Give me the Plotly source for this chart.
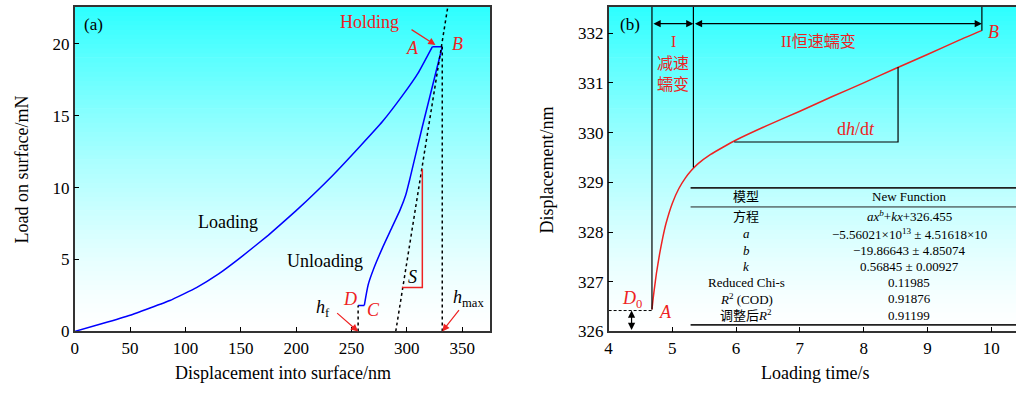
import plotly.graph_objects as go

W, H = 1016, 396
# ---------------- data: panel (a) ----------------
load_disp = [0, 25, 50, 86, 110, 130, 150, 175, 200, 233, 258, 278, 296, 310, 323]
load_force = [0, 0.55, 1.13, 2.15, 3.05, 4.0, 5.15, 6.7, 8.4, 10.85, 12.9, 14.6, 16.4, 17.95, 19.8]
hold_disp = [323, 332]
hold_force = [19.8, 19.8]
unload_disp = [332, 314.0, 303.5, 299.0, 294.0, 287.1, 277.7, 270.3, 265.1, 261.6]
unload_force = [19.8, 14.24, 10.85, 9.49, 8.47, 7.32, 5.76, 4.41, 3.25, 1.81]
cd_disp = [261.6, 256]
cd_force = [1.81, 1.81]
h_max = 332
h_f = 256
tangent_disp = [290, 337]
tangent_force = [0, 22.58]
s_disp = [295.5, 314, 314]
s_force = [3.05, 3.05, 11.3]

# ---------------- data: panel (b) ----------------
time_s = [4.68, 4.70, 4.72, 4.75, 4.80, 4.85, 4.90, 5.00, 5.10, 5.20, 5.30, 5.40,
          5.60, 5.80, 6.00, 6.50, 7.00, 7.50, 8.00, 8.50, 9.00, 9.50, 9.85]
disp_nm = [326.44, 326.68, 326.88, 327.17, 327.56, 327.89, 328.17, 328.58, 328.87, 329.08,
           329.24, 329.37, 329.56, 329.71, 329.85, 330.15, 330.43, 330.72, 331.00, 331.29,
           331.57, 331.86, 332.05]
t_A, t_I, t_B = 4.68, 5.33, 9.855
h_I = 329.3
D0 = 326.42
dhdt_t = [5.97, 8.54, 8.54]
dhdt_h = [329.81, 329.81, 331.32]

table_left = ["模型", "方程", "<i>a</i>", "<i>b</i>", "<i>k</i>", "Reduced Chi-s",
              "<i>R</i><sup>2</sup> (COD)", "调整后<i>R</i><sup>2</sup>"]
table_right = ["New Function", "<i>ax</i><sup><i>b</i></sup>+<i>kx</i>+326.455",
               "−5.56021×10<sup>13</sup> ± 4.51618×10", "−19.86643 ± 4.85074",
               "0.56845 ± 0.00927", "0.11985", "0.91876", "0.91199"]

FONT = "Liberation Serif, Noto Sans CJK SC, serif"
RED = "#ee2222"
BLUE = "#0000ff"


def px(x):
    return x / W


def py(y):
    return 1 - y / H


fig = go.Figure()


def line_trace(x, y, color, width=1.5, dash=None, spline=False, ax="x", ay="y", smoothing=0.5):
    ln = dict(color=color, width=width)
    if dash:
        ln["dash"] = dash
    if spline:
        ln["shape"] = "spline"
        ln["smoothing"] = smoothing
    fig.add_trace(go.Scatter(x=x, y=y, mode="lines", line=ln, xaxis=ax, yaxis=ay,
                             showlegend=False, hoverinfo="skip"))


line_trace(load_disp, load_force, BLUE, spline=True, smoothing=0.3)
line_trace(hold_disp, hold_force, BLUE)
line_trace(unload_disp, unload_force, BLUE, spline=True, smoothing=0.6)
line_trace(cd_disp, cd_force, BLUE)
line_trace(tangent_disp, tangent_force, "black", dash="dot")
line_trace([h_max, h_max], [0, hold_force[-1]], "black", dash="dot")
line_trace([h_f, h_f], [0, cd_force[-1]], "black", dash="dot")
line_trace(s_disp, s_force, RED)

line_trace(time_s, disp_nm, RED, spline=True, ax="x2", ay="y2", smoothing=0.5)
line_trace(dhdt_t, dhdt_h, "black", width=1.2, ax="x2", ay="y2")
line_trace([4, t_A], [D0, D0], "black", width=1, dash="3px,2px", ax="x2", ay="y2")

shapes = []
# gradient backgrounds
N = 70
for ax in ["x", "x2"]:
    yax = "y" if ax == "x" else "y2"
    for i in range(N):
        t = (i + 0.5) / N
        r = int(round(255 - (t ** 1.4) * (255 - 45)))
        shapes.append(dict(type="rect", xref=f"{ax} domain", yref=f"{yax} domain",
                           x0=0, x1=1, y0=i / N, y1=(i + 1) / N + 0.002,
                           fillcolor=f"rgb({r},255,255)", line=dict(width=0), layer="below"))
# stage lines on panel b
for (tt, h0) in [(t_A, disp_nm[0]), (t_I, h_I), (t_B, disp_nm[-1])]:
    shapes.append(dict(type="line", xref="x2", yref="y2", x0=tt, x1=tt, y0=h0, y1=332.53,
                       line=dict(color="black", width=1.2)))
# table rules
for (yy, wd) in [(192.7, 1.6), (212.3, 1.0), (333.3, 1.6)]:
    shapes.append(dict(type="line", xref="paper", yref="paper", x0=px(689.3), x1=1,
                       y0=py(yy), y1=py(yy), line=dict(color="#222", width=wd)))

ann = []


def txt(x, y, s, size=17, color="black", xref="paper", yref="paper", **kw):
    ann.append(dict(x=x, y=y, xref=xref, yref=yref, text=s, showarrow=False,
                    xanchor="center", yanchor="middle",
                    font=dict(family=FONT, size=size, color=color), **kw))


def arrow(x, y, axx, ayy, xref="x", yref="y", color=RED, both=False, width=1.2):
    d = dict(x=x, y=y, ax=axx, ay=ayy, xref=xref, yref=yref, axref=xref, ayref=yref,
             text="", showarrow=True, arrowhead=2, arrowsize=1.2, arrowwidth=width,
             arrowcolor=color)
    if both:
        d.update(arrowside="end+start", startarrowhead=2, startarrowsize=1.2)
    ann.append(d)


# panel a text
txt(px(90), py(25), "(a)", size=17)
txt(px(367), py(23), "Holding", size=18, color=RED)
arrow(325.9, 19.93, 302.9, 21.06)
txt(px(410), py(49), "<i>A</i>", size=18, color=RED)
txt(px(455), py(45), "<i>B</i>", size=18, color=RED)
txt(px(225), py(228), "Loading", size=18)
txt(px(322), py(268), "Unloading", size=18)
txt(px(410), py(284), "<i>S</i>", size=18)
txt(px(347), py(307), "<i>D</i>", size=18, color=RED)
txt(px(371), py(318), "<i>C</i>", size=18, color=RED)
txt(px(320), py(316), "<i>h</i><sub>f</sub>", size=18)
arrow(h_f, 0, 235.7, 1.36)
txt(px(466), py(306), "<i>h</i><sub>max</sub>", size=18)
arrow(h_max, 0, 348.2, 1.58)

# panel b text
txt(px(628), py(25), "(b)", size=17)
arrow(t_I, 332.19, t_A, 332.19, xref="x2", yref="y2", color="black", both=True)
arrow(t_B, 332.19, t_I, 332.19, xref="x2", yref="y2", color="black", both=True)
arrow(4.36, D0, 4.36, 326.0, xref="x2", yref="y2", color="black", both=True)
txt(px(672), py(43), "I", size=16, color=RED)
txt(px(672), py(65), "减速", size=16, color=RED)
txt(px(672), py(87), "蠕变", size=16, color=RED)
txt(px(818), py(43), "II恒速蠕变", size=16, color=RED)
txt(px(993), py(33), "<i>B</i>", size=18, color=RED)
txt(px(855), py(132), "d<i>h</i>/d<i>t</i>", size=18, color=RED)
txt(px(630), py(307), "<i>D</i><sub>0</sub>", size=18, color=RED)
txt(px(664), py(320), "<i>A</i>", size=18, color=RED)

row_y = [201.7, 221.7, 240, 256.7, 273.3, 290, 306.7, 323.3]
for i in range(len(table_left)):
    txt(px(745), py(row_y[i]), table_left[i], size=13)
    txt(px(909), py(row_y[i]), table_right[i], size=13)

# axis titles
txt(px(280), py(383), "Displacement into surface/nm", size=18)
txt(px(18), py(174), "Load on surface/mN", size=18, textangle=-90)
txt(px(814), py(383), "Loading time/s", size=18)
txt(px(545), py(174), "Displacement/nm", size=18, textangle=-90)

axis_common = dict(showgrid=False, zeroline=False, ticks="inside", ticklen=5, tickwidth=1,
                   tickcolor="black", linecolor="#333", linewidth=1.5,
                   tickfont=dict(family=FONT, size=17, color="black"))
fig.update_layout(
    width=W, height=H, margin=dict(l=0, r=0, t=0, b=0),
    paper_bgcolor="white", plot_bgcolor="white", hovermode=False,
    xaxis=dict(domain=[px(71), px(488)], range=[0, 375.2], tickvals=[0, 50, 100, 150, 200, 250, 300, 350],
               anchor="y", showline=True, mirror=True, **axis_common),
    yaxis=dict(domain=[py(340), py(7)], range=[0, 22.58], tickvals=[0, 5, 10, 15, 20],
               anchor="x", showline=True, mirror=True, **axis_common),
    xaxis2=dict(domain=[px(607), 1.0], range=[4, 10.39], tickvals=[4, 5, 6, 7, 8, 9, 10],
                anchor="y2", showline=True, mirror=True, **axis_common),
    yaxis2=dict(domain=[py(340), py(7)], range=[326, 332.53], tickvals=[326, 327, 328, 329, 330, 331, 332],
                anchor="x2", showline=True, mirror=False, **axis_common),
    shapes=shapes, annotations=ann,
)
fig.write_html("out.html", config={"displayModeBar": False},
               post_script="document.body.style.margin='0px';document.body.style.overflow='hidden';")
